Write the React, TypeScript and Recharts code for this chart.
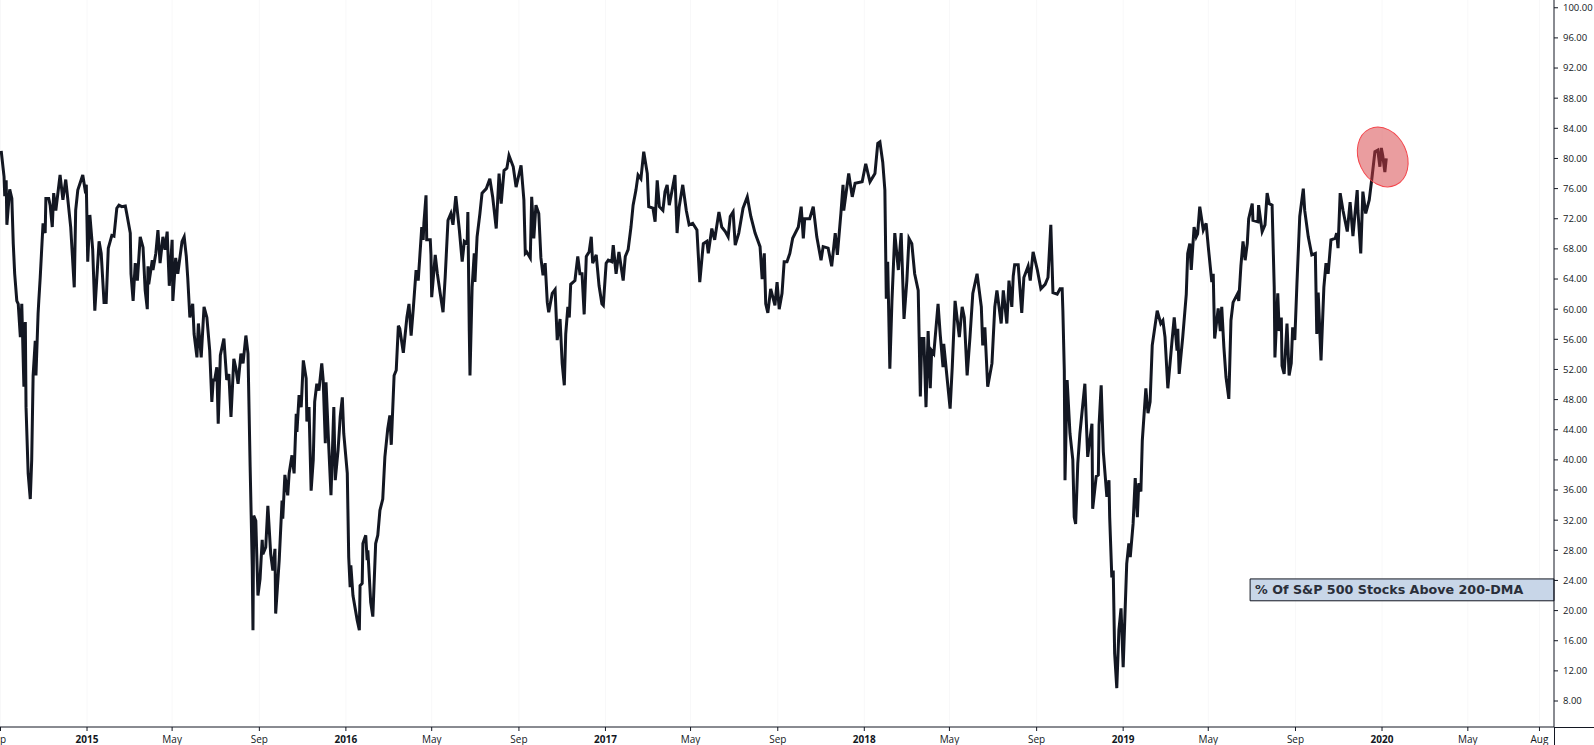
import { LineChart, Line, XAxis, YAxis, CartesianGrid, ReferenceArea, ReferenceDot } from "recharts";

type Pt = [number, number];

// x is days since 2015-01-01, y is % of stocks above the 200-DMA
const pts2014: Pt[] = [
  [-121,81],[-117,77.6],[-116,75],[-114,77.1],[-113,71.2],[-109,75.9],[-106,74.7],[-104,68.7],[-102,64.7],[-99,61.1],
  [-97,60.7],[-94,56.3],[-92,60.7],[-89,49.7],[-87,58.3],[-86,47],[-83,38.2],[-80,34.8],[-78,40],[-76,51.2],
  [-73,55.8],[-72,51.2],[-69,59.4],[-68,61.1],[-66,64.2],[-62,71.4],[-59,70.1],[-58,74.7],[-54,74.7],[-52,73.8],
  [-49,70.9],[-47,75.4],[-44,73.1],[-38,77.8],[-34,74.5],[-30,77.2],[-27,74.5],[-23,70.9],[-18,62.9],[-16,73.1],
  [-13,75.8],[-6,77.8],[-3,76],[-1,76.5],
];
const pts2015: Pt[] = [
  [1,66.3],[4,72.5],[8,67.9],[11,59.8],[17,69],[20,67.4],[24,60.9],[27,60.9],[30,68.1],[35,69.8],
  [38,69.7],[42,73.4],[45,73.8],[49,73.6],[54,73.7],[56,72.7],[61,70.1],[62,64.7],[65,61.1],[68,66.1],
  [71,63.8],[75,69.6],[79,68.2],[82,62.5],[85,60],[86,65.7],[87,63.3],[92,66.5],[93,65.2],[97,67.4],
  [100,70.5],[103,66.1],[107,69.6],[110,67.9],[113,70.3],[116,63.1],[120,69.2],[121,61.1],[125,66.8],[128,64.7],
  [134,69],[137,69.6],[140,67],[142,64.2],[145,58.9],[149,60.7],[151,56.7],[155,53.6],[157,58.1],[161,53.6],
  [165,60.3],[169,58.9],[173,54.5],[176,47.7],[178,50.6],[180,50.6],[183,52.3],[185,44.8],[188,53.9],[193,56.1],
  [197,50.6],[200,51.4],[203,45.7],[207,53.4],[210,52.1],[213,50.1],[217,54.1],[220,52.8],[224,56.5],[227,54.1],
  [230,39.1],[233,25.8],[234,17.4],[235,32.6],[238,31.9],[241,22],[244,24.2],[247,29.4],[248,27.5],[252,28.4],
  [255,33.9],[259,27.5],[262,25.3],[265,28.2],[266,19.6],[271,26.7],[275,34.6],[276,32.2],[279,38],[283,35.3],
  [285,38.2],[289,40.6],[292,38.2],[295,46.1],[296,43.7],[299,48.6],[302,47],[305,53.2],[309,50.8],[310,45.1],
  [313,47],[316,35.9],[319,40],[321,47.7],[324,50.1],[327,49.2],[331,52.8],[333,50.6],[336,42.2],[337,50.3],
  [341,41.5],[344,35.3],[348,47],[350,37.3],[354,41.3],[357,45.7],[360,48.3],[362,43.5],
];
const pts2016: Pt[] = [
  [367,38.2],[369,27.1],[371,23.1],[372,26],[375,22],[381,18.7],[384,17.4],[385,23.3],[388,23.6],[389,28.9],
  [393,30],[395,26.7],[396,28],[400,21.1],[403,19.2],[407,28.9],[410,30],[413,33.3],[417,34.8],[420,40.4],
  [424,44.1],[427,45.9],[429,42],[433,51.2],[436,51.9],[439,57.8],[441,57.4],[446,54.2],[451,58.9],[454,60.7],
  [457,56.5],[460,60],[464,65.2],[467,63.8],[472,70.9],[474,69.2],[475,71.4],[478,75.1],[479,69.2],[484,69.2],
  [485,67.2],[486,61.6],[491,67.2],[494,64.7],[498,62.1],[502,59.6],[505,64.2],[509,71.8],[513,72.7],[516,71.2],
  [520,75],[525,70.5],[529,66.3],[532,69],[536,68.7],[537,72.9],[539,57.1],[540,51.2],[543,62.9],[546,67.4],
  [547,63.6],[550,69.6],[554,72.7],[557,75.4],[563,76],[568,77.3],[572,74.9],[577,70.7],[581,78],[584,74],
  [588,78.4],[592,78.7],[595,80.4],[601,78.9],[605,76.2],[612,79.1],[616,74.5],[618,67.4],[620,67.6],[625,66.8],
  [627,74.9],[630,69.4],[633,73.8],[637,72.7],[640,66.8],[643,64.5],[646,66.1],[649,60.9],[651,59.6],[656,62.1],
  [660,62.6],[663,55.9],[667,58.7],[670,52.8],[673,49.9],[675,56.7],[678,60.3],[680,58.9],[682,63.3],[688,63.8],
  [692,67],[695,64.7],[698,64.7],[701,59.3],[704,67],[708,67.6],[711,69.6],[713,66.1],[718,67.2],[722,63.1],
  [726,60.7],[728,60.5],
];
const pts2017: Pt[] = [
  [732,66.1],[735,66.5],[740,66.3],[742,68.5],[746,64.7],[750,67.6],[756,63.8],[759,67],[763,67.9],[767,70.9],
  [770,73.8],[774,75.8],[777,77.8],[781,77.3],[785,80.9],[790,78],[792,73.6],[798,73.4],[801,71.6],[804,77.1],
  [807,73.6],[812,73.1],[815,75.6],[818,76.5],[821,73.8],[829,77.8],[832,70.1],[835,73.6],[840,76.5],[845,73.1],
  [849,71.2],[854,71.4],[860,70.5],[864,63.6],[869,68.7],[874,69],[876,67.4],[881,70.7],[885,69.2],[891,72.9],
  [895,70.9],[900,70.3],[904,69.6],[907,72.3],[911,72.9],[914,68.5],[919,70.1],[925,73.4],[931,74.9],[936,72.3],
  [942,70.1],[949,68.3],[952,64],[955,67.4],[957,60.7],[960,59.5],[964,62.7],[970,60.5],[973,63.6],[976,60],
  [980,62.1],[983,66.3],[987,66.3],[991,67.4],[995,69.4],[1003,70.9],[1007,73.6],[1010,69.4],[1012,72],[1019,72],
  [1024,73.6],[1029,69.6],[1035,66.5],[1038,68.3],[1045,68.1],[1050,65.7],[1055,70.1],[1058,67.2],[1063,72.7],[1066,76.5],
  [1067,73.1],[1074,78],[1079,74.9],[1083,76.7],[1093,76.9],
];
const pts2018: Pt[] = [
  [1098,79.3],[1104,76.9],[1111,78],[1115,82],[1118,82.2],[1122,79.5],[1125,75.8],[1127,61.4],[1129,66.3],[1132,52.1],
  [1135,61.1],[1139,70.1],[1144,65.2],[1148,70.1],[1152,58.7],[1156,63.8],[1159,69.4],[1163,68.7],[1167,64.7],[1172,62.5],
  [1175,48.4],[1177,56.1],[1180,56.1],[1183,47],[1186,57.1],[1189,49.5],[1191,54.5],[1194,54.1],[1200,60.7],[1203,56.7],
  [1207,52.3],[1208,55.4],[1213,50.6],[1217,46.8],[1220,52.3],[1224,61.1],[1230,56.3],[1234,60.3],[1237,58.9],[1241,51.2],
  [1245,56.3],[1249,62.1],[1255,64.7],[1261,60.3],[1263,55.2],[1266,57.6],[1270,49.7],[1276,52.8],[1280,60.3],[1283,62.5],
  [1289,58.1],[1292,62.5],[1297,58.1],[1300,63.8],[1304,60.3],[1306,64.4],[1308,65.9],[1313,65.9],[1318,59.5],[1321,64.2],
  [1327,65.7],[1330,63.8],[1334,67.6],[1340,65.2],[1345,62.7],[1351,63.3],[1355,64.2],[1359,71.2],[1362,62.2],[1368,62],
  [1372,62.7],[1375,62.7],[1376,59.8],[1378,51.9],[1379,37.3],[1382,50.6],[1386,43.5],[1390,40],[1392,32.4],[1394,31.5],
  [1397,39.5],[1400,43.5],[1407,50.1],[1411,40.4],[1417,44.8],[1418,33.5],[1423,37.8],[1426,38],[1427,44.6],[1430,49.9],
  [1433,41.1],[1435,38.7],[1438,35.1],[1441,37.3],[1442,32.4],[1445,24.4],[1447,25.3],[1449,14.3],[1452,9.7],[1455,17.4],
  [1458,20.3],
];
const pts2019: Pt[] = [
  [1461,12.5],[1466,26.2],[1469,28.9],[1471,27.1],[1475,31.5],[1478,37.6],[1481,32.4],[1483,36.9],[1486,35.8],[1488,42.6],
  [1493,49.5],[1496,46.2],[1499,47.7],[1502,55.2],[1509,59.8],[1514,58.1],[1517,58.5],[1520,56.3],[1524,49.5],[1530,55.9],
  [1533,58.9],[1537,54.5],[1538,57.4],[1540,51.4],[1545,56.3],[1550,62],[1552,67.4],[1555,68.7],[1557,65.2],[1561,70.9],
  [1564,69.6],[1566,70],[1569,73.6],[1574,70.5],[1578,71.4],[1581,68.3],[1586,63.6],[1588,64.7],[1590,56.1],[1595,60.1],
  [1598,57.1],[1600,60.3],[1603,55],[1606,51],[1610,48.1],[1613,58.5],[1616,60.9],[1622,62],[1624,61.1],[1627,65.7],
  [1630,69],[1633,66.5],[1636,68.7],[1638,72],[1643,74],[1644,71.8],[1651,71.6],[1652,73.8],[1657,70.3],[1661,71.2],
  [1664,75.4],[1667,74],[1671,73.8],[1674,62.9],[1675,53.6],[1679,62.1],[1681,57.1],[1684,58.9],[1685,52.5],[1688,51.4],
  [1692,58.1],[1695,51.2],[1698,52.8],[1700,57.6],[1703,55.9],[1706,63.3],[1710,72.3],[1715,76],[1717,73.1],[1722,69.6],
  [1727,67.2],[1732,67.4],[1734,56.7],[1736,62.2],[1740,53.2],[1744,62.9],[1747,66.1],[1750,64.7],[1754,69.2],[1760,69.4],
  [1762,70.1],[1764,68.1],[1767,75.4],[1771,73.1],[1777,70.3],[1781,74.2],[1785,69.7],[1791,75.8],[1792,73.1],[1796,67.4],
  [1799,75.6],[1803,72.7],[1808,74.5],[1812,77.6],[1816,80.9],[1820,81.1],[1823,78.9],[1825,81.4],
];
const pts2020: Pt[] = [[1827,80.4],[1830,78.2],[1832,80]];

const xTickDays = [-122,0,120,243,365,486,609,731,851,974,1096,1216,1339,1461,1581,1704,1826,1947,2048];
const xTickLabels = ["Sep","2015","May","Sep","2016","May","Sep","2017","May","Sep","2018","May","Sep","2019","May","Sep","2020","May","Aug"];
const yTicks = [8,12,16,20,24,28,32,36,40,44,48,52,56,60,64,68,72,76,80,84,88,92,96,100];

const rows = [...pts2014, ...pts2015, ...pts2016, ...pts2017, ...pts2018, ...pts2019, ...pts2020].map(([day, pct]) => ({ day, pct }));

const AXIS = "#131722";
const FONT = "'Open Sans', sans-serif";

function XTick({ x, y, payload }: any) {
  const idx = xTickDays.indexOf(payload.value);
  const label = xTickLabels[idx];
  const isYear = /^\d/.test(label);
  // the first month label hangs off the left edge of the pane
  return (
    <text x={idx === 0 ? x - 3 : x} y={y + 10} textAnchor="middle" fontFamily={FONT} fontSize={10} fontWeight={isYear ? 700 : 400} fill={AXIS}>
      {label}
    </text>
  );
}

function Highlight({ cx, cy }: any) {
  return (
    <ellipse
      cx={cx}
      cy={cy}
      rx={24}
      ry={31}
      transform={`rotate(-25 ${cx} ${cy})`}
      fill="rgba(214,60,64,0.5)"
      stroke="#f4454b"
      strokeWidth={1}
    />
  );
}

export default function App() {
  return (
    <div style={{ position: "absolute", left: 0, top: 0, width: 1594, height: 745, background: "#fff", overflow: "hidden" }}>
      <LineChart width={1594} height={745} data={rows} margin={{ top: 0, right: 0, left: 0, bottom: 0 }}>
        <CartesianGrid horizontal={false} verticalValues={xTickDays} stroke="#f8f8f9" />
        <XAxis
          dataKey="day"
          type="number"
          domain={[-122.7, 2068.5]}
          ticks={xTickDays}
          interval={0}
          height={18}
          tick={<XTick />}
          tickSize={4}
          stroke={AXIS}
          allowDataOverflow
        />
        <YAxis
          orientation="right"
          type="number"
          domain={[4.55, 101.03]}
          ticks={yTicks}
          interval={0}
          width={40}
          tickFormatter={(v: number) => v.toFixed(2)}
          tick={{ fill: AXIS, fontSize: 9.5, fontFamily: FONT }}
          tickSize={4}
          tickMargin={5}
          stroke={AXIS}
          allowDataOverflow
        />
        <Line
          type="linear"
          dataKey="pct"
          stroke={AXIS}
          strokeWidth={3}
          dot={false}
          activeDot={false}
          isAnimationActive={false}
        />
        <ReferenceDot x={1827} y={80.2} shape={<Highlight />} ifOverflow="visible" />
        <ReferenceArea
          x1={1640}
          x2={2068.5}
          y1={21.3}
          y2={24.2}
          fill="#c8d6e8"
          fillOpacity={1}
          stroke={AXIS}
          strokeOpacity={1}
          ifOverflow="visible"
          label={{
            value: "% Of S&P 500 Stocks Above 200-DMA",
            position: "insideLeft",
            offset: 5,
            fill: "#2a2e39",
            fontSize: 12.7,
            fontWeight: 700,
            fontFamily: "'DejaVu Sans', sans-serif",
          }}
        />
      </LineChart>
      <div style={{ position: "absolute", left: 1554, top: 727, width: 40, height: 1, background: AXIS }} />
      <div style={{ position: "absolute", left: 1554, top: 727, width: 1, height: 18, background: AXIS }} />
    </div>
  );
}
